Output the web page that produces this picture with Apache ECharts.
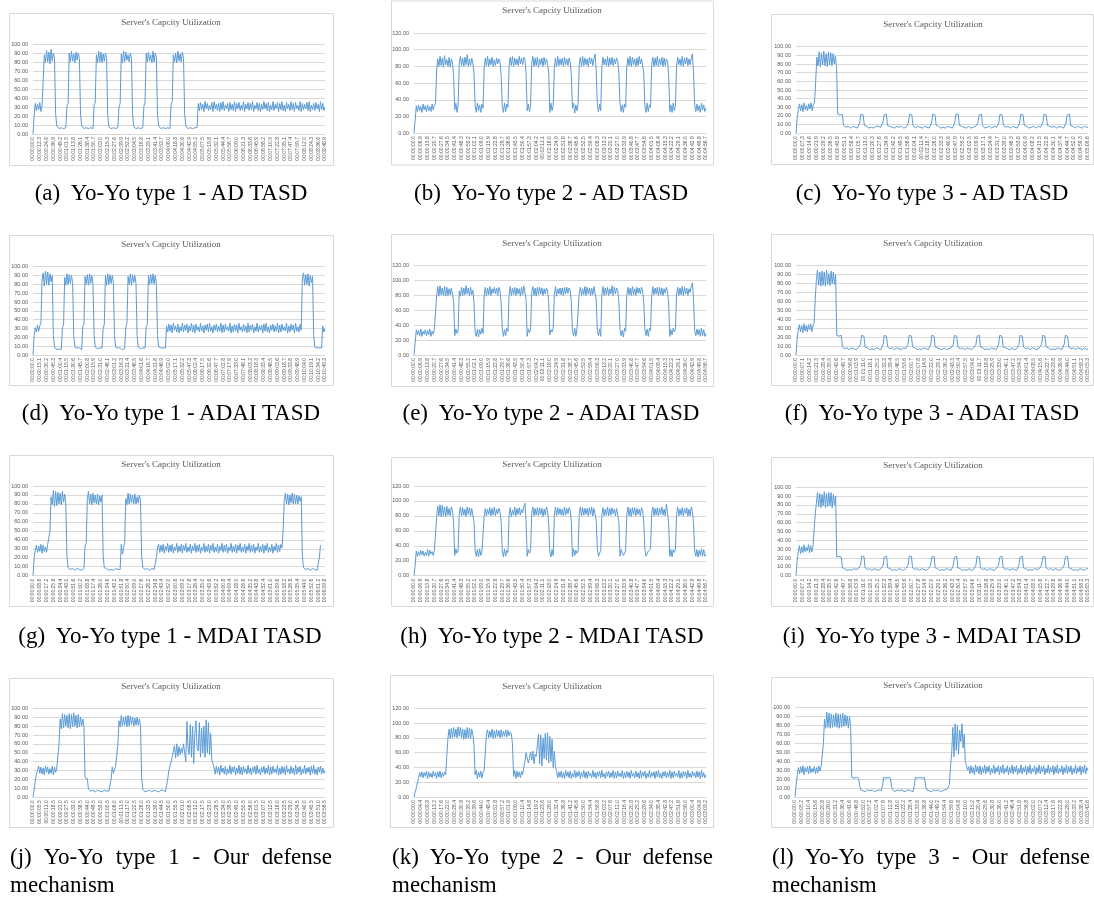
<!DOCTYPE html>
<html><head><meta charset="utf-8">
<script src="https://cdn.jsdelivr.net/npm/echarts@6/dist/echarts.min.js"></script>
<style>
html,body{margin:0;padding:0;background:#fff;width:1094px;height:900px;overflow:hidden;}
#chart{position:absolute;left:0;top:0;width:1094px;height:900px;}
.cap{position:absolute;font-family:"Liberation Serif","DejaVu Serif",serif;font-size:23px;line-height:28px;color:#000;}
.cap.c{white-space:nowrap;text-align:center;width:400px;}
.cap.j{white-space:normal;text-align:justify;}
</style></head><body>
<div id="chart"></div>
<div id="caps"></div>
<script>
// ---------------- DATA ----------------
const chartTitle = "Server's Capcity Utilization";
const captions = [
  "(a)\u00a0 Yo-Yo type 1 - AD TASD", "(b)\u00a0 Yo-Yo type 2 - AD TASD", "(c)\u00a0 Yo-Yo type 3 - AD TASD",
  "(d)\u00a0 Yo-Yo type 1 - ADAI TASD", "(e)\u00a0 Yo-Yo type 2 - ADAI TASD", "(f)\u00a0 Yo-Yo type 3 - ADAI TASD",
  "(g)\u00a0 Yo-Yo type 1 - MDAI TASD", "(h)\u00a0 Yo-Yo type 2 - MDAI TASD", "(i)\u00a0 Yo-Yo type 3 - MDAI TASD",
  "(j) Yo-Yo type 1 - Our defense mechanism", "(k) Yo-Yo type 2 - Our defense mechanism", "(l) Yo-Yo type 3 - Our defense mechanism"
];
// x tick labels: step between shown time labels (seconds) and number of labels
const tickStepSec = [12.3, 6.9, 7.3, 15.1, 6.9, 7.1, 8.6, 6.9, 7.1, 5.5, 4.4, 5.2];
const tickCount   = [44, 44, 43, 44, 44, 44, 44, 44, 44, 44, 44, 44];
const yMax  = [100, 120, 100, 100, 120, 100, 100, 120, 100, 100, 120, 100];
const yStep = [10, 20, 10, 10, 20, 10, 10, 20, 10, 10, 20, 10];
const samplesPerTick = 6;

const utilA = [0,20,
34,26,33,27,35,25,32,34,
88,79,93,80,91,78,94,81,90,84, 22,9, 8,6,8,7,8,6,8,7, 31,34,
90,80,92,81,89,79,91,82,90,84, 22,9, 8,6,8,7,8,6,8,7,8,6, 32,35,
88,79,92,80,91,79,89,81,90,85, 22,8, 8,6,8,7,8,6,8,7, 30,34,
89,79,92,80,91,82,88,80,90,84, 21,8, 8,6,8,7,8,6,8,7, 31,35,
90,80,91,81,88,79,92,80,90,85, 22,9, 8,6,8,7,8,6,8,7,8,6, 33,36,
88,80,90,79,92,81,89,80,91,84, 22,9, 8,6,8,7,8,6,8,7,8,7,
34,26,35,27,33,25,36,28,34,26,32,27,35,25,36,28,33,26,34,25,
35,27,36,26,32,28,34,25,35,27,33,26,36,25,34,28,35,26,32,27,
36,25,33,28,35,26,34,27,36,25,32,28,35,26,34,25,33,27,36,28,
34,26,35,25,32,27,36,26,33,28,35,25,34,27,36,26,32,25,35,28,
33,26,36,27,34,25,35,28,32,26,36,25,34,27,33,28,35,26,36,25,
32,27,34,26,35,28,33,25,36,27,34,26,30];
const utilB = [0,15,
33,26,34,27,32,25,35,28,33,26,34,27,32,26,35,28,33,36,
76,89,80,92,81,90,79,93,82,88,80,91,79,89,84,70, 28,36,25,34,
84,92,81,90,80,91,82,94,80,89,81,90,84,72, 33,25,36,27,34,25,35,30,
78,90,81,92,80,89,82,91,80,88,81,90,83,89,85,70, 32,25,36,26,35,31,
80,91,81,92,80,90,82,89,81,92,83,90,82,91,88,72, 27,35,26,33,
84,92,80,90,81,91,79,89,82,90,80,91,82,89,84,72, 25,36,27,33,
78,90,80,92,81,89,82,90,80,91,82,89,81,90,86,70, 30,36,24,34,27,35,
82,91,80,92,81,90,82,89,80,91,83,90,81,89,95,75, 34,26,35,27,
80,91,82,89,81,92,80,90,82,91,81,89,83,90,86,72, 36,26,34,25,35,31,
79,90,81,92,80,91,82,89,80,90,81,92,83,89,88,72, 33,25,36,26,34,31,
82,91,80,90,81,92,80,89,82,91,80,90,81,89,86,70, 26,34,25,36,27,33,
80,91,82,89,81,92,80,90,83,91,81,89,82,90,95,72,
34,26,35,27,33,25,36,28,34,26,30];
const utilC = [
0,18,27,34,26,33,25,35,27,32,26,34,28,35,26,33,36,60,88,78,
94,77,93,79,95,78,92,77,94,79,93,78,92,80,89,76,22,21,21,22,
22,9,8,7,6,8,8,6,7,8,6,7,8,6,7,12,22,22,21,9,
7,8,8,6,6,7,8,6,7,8,6,8,8,7,7,12,21,22,22,9,
7,8,6,7,8,6,7,8,8,7,6,8,7,6,8,7,6,12,22,21,
21,9,8,6,6,8,8,7,7,6,6,8,8,7,7,6,6,12,22,22,
21,9,7,8,8,6,6,7,8,6,7,8,6,7,8,6,7,12,22,21,
22,9,7,8,6,7,8,6,7,8,8,6,6,7,7,8,8,12,21,22,
22,9,7,6,8,7,6,8,8,6,7,8,6,7,8,12,22,21,21,9,
8,7,6,8,8,6,7,8,6,7,8,6,7,12,22,22,21,9,7,8,
8,6,6,7,8,8,7,6,6,8,8,7,7,12,22,21,21,9,7,8,
8,7,6,8,8,6,7,8,6,7,8,6,7,12,21,22,22,9,7,8,
8,6,6,8,7,7,8,6,6,8,8,7,7];
const utilD = [0,22,
31,26,34,27,33,36,
85,93,78,95,80,94,79,92,83,90, 22,9, 8,6,8,7,8,6, 31,34,
88,79,92,80,91,81,90,82, 22,9, 7,8,6,8,7,6, 32,35,
89,80,91,79,92,81,90,80, 22,9, 8,7,6,8,7,8, 30,35,
90,79,92,80,91,81,90,82, 22,9, 7,8,6,8,7,6,8,7, 31,36,
89,80,92,79,91,82,90,81, 22,9, 8,7,6,8,7,8, 32,35,
90,80,91,81,92,80,90,81, 22,9, 7,8,6,8,7,8,
33,26,35,27,34,25,36,28,33,26,35,25,32,27,36,26,34,28,35,25,
33,27,36,26,34,25,35,28,32,26,36,27,33,25,34,28,35,26,36,27,
32,25,34,28,35,26,33,27,36,25,34,26,35,28,32,27,36,25,33,26,
35,27,34,25,36,28,32,26,35,27,33,25,36,26,34,28,35,25,32,27,
36,26,33,28,34,25,35,27,36,26,32,25,34,28,35,26,33,27,36,25,
34,26,35,28,32,27,36,25,33,26,35,28,34,25,36,27,32,26,35,28,
86,93,79,91,80,92,78,90,82,89, 22,9, 7,8,6,8,7,8,
33,26,30];
const utilE = [0,16,
34,27,33,26,35,25,32,28,34,26,33,27,35,25,32,28,34,36,
80,92,79,93,81,90,80,92,79,91,80,89,81,90,88,72, 26,35,29,33,
86,79,91,80,90,81,93,82,90,80,91,81,87,70, 31,25,35,24,34,28,36,29,
80,91,79,90,81,92,80,89,83,91,82,90,80,91,86,71, 35,25,34,26,36,32,
81,92,80,90,81,91,80,90,82,89,79,91,81,93,92,75, 25,35,30,34,
85,92,80,90,79,91,81,91,82,90,80,89,82,90,86,72, 27,34,31,36,
80,92,79,89,82,90,81,90,80,91,82,91,83,90,87,71, 32,26,36,25,35,33,
84,91,80,89,81,92,80,91,82,90,80,90,81,92,94,74, 33,26,35,25,
81,92,80,90,81,91,80,89,82,93,80,91,82,90,87,72, 35,26,33,24,36,32,
80,91,81,90,80,92,81,89,80,91,83,90,82,91,86,71, 34,26,35,25,36,33,
80,92,81,90,82,91,80,91,81,90,80,89,83,91,85,70, 25,34,27,36,31,35,
82,91,80,90,81,92,80,91,82,90,80,89,84,92,97,74,
33,26,35,27,34,25,36,26,34,25,29];
const utilF = [
0,19,28,34,26,33,25,35,27,33,26,34,28,35,26,33,36,62,84,95,
78,93,77,94,78,93,77,95,79,91,78,94,80,93,79,90,22,21,21,22,
22,9,8,7,6,8,8,6,7,8,6,7,8,6,7,8,6,12,22,22,
21,9,7,8,8,6,6,7,8,6,7,8,6,7,8,6,7,12,22,21,
21,9,8,7,6,8,8,6,7,8,6,7,8,6,7,8,6,7,7,12,
22,22,21,9,7,8,8,6,6,7,8,6,7,8,6,7,8,6,7,12,
22,21,21,9,7,8,6,7,8,6,7,8,8,6,6,7,7,8,8,12,
22,22,21,9,8,7,6,8,8,6,7,8,6,7,8,6,7,8,6,12,
21,22,22,9,7,8,8,6,6,7,8,6,7,8,6,7,8,6,7,12,
22,21,21,9,7,8,6,7,8,6,7,8,8,6,6,7,7,12,22,22,
21,9,8,7,6,8,8,6,7,8,6,7,8,6,7,8,6,12,22,21,
21,9,7,8,8,6,6,7,8,6,7,8,6,7,8,6,7,12,22,22,
21,9,8,7,6,8,8,6,7,8,6,7,8,6,7,8,8,6,7];
const utilG = [0,20,
28,34,26,33,27,35,25,34,27,32,26,35,34,50,
88,79,95,77,94,78,93,80,92,79,94,82,91,80, 22,9, 8,7,6,8,8,6,7,8,6,7,8,6,7,8, 33,36,
85,94,80,91,79,92,81,90,80,91,79,89,82,90, 22,9, 7,8,8,6,6,7,8,6,7,8,6,7,8,7, 35,24,26,37,
86,79,92,80,91,81,90,80,91,80,88,81,90,83, 22,9, 8,7,6,8,8,6,7,8,6,7,8,20,
31,35,26,34,27,35,25,33,28,36,26,34,27,35,25,32,28,36,26,33,
27,35,25,34,28,36,26,32,27,35,25,33,28,36,26,34,27,35,25,32,
28,36,26,33,27,35,25,34,28,36,26,32,27,35,25,33,28,36,26,34,
27,35,25,32,28,36,26,33,27,35,25,34,28,36,26,32,27,35,25,33,
28,36,26,34,27,35,25,32,28,36,26,33,27,35,25,34,28,36,26,32,
27,35,25,33,28,36,26,34,27,35,31,50,
84,92,80,91,79,90,81,92,80,91,80,90,80,89,83,88, 22,9, 8,7,6,8,8,6,7,8,6,7,8,6,7,20,
34];
const utilH = [0,14,
33,26,32,27,34,28,33,26,31,27,35,26,34,29,32,27,34,36,
78,93,80,95,79,94,80,92,79,93,81,90,80,92,87,70, 27,36,30,34,
83,92,80,91,81,89,79,92,82,91,80,90,81,72, 34,26,35,25,36,27,33,31,
79,90,80,89,82,91,80,90,81,92,80,89,83,90,86,72, 33,25,36,26,34,31,
80,91,79,88,81,92,80,90,82,91,81,89,84,92,97,74, 26,35,30,34,
83,92,80,90,81,91,80,91,82,90,79,89,81,92,87,70, 32,25,35,27,
80,92,80,91,82,90,81,89,80,92,81,90,83,91,88,72, 25,36,27,34,30,33,
83,92,80,91,81,90,82,90,80,91,82,92,80,90,89,74, 35,26,25,34,
82,91,80,89,81,92,80,90,81,91,83,89,80,90,88,72, 26,35,34,27,30,34,
81,92,80,90,79,91,82,91,80,90,82,89,80,91,87,72, 35,26,24,33,32,36,
83,92,80,90,81,91,80,90,82,92,81,89,80,96,84,70, 26,35,25,35,31,35,
82,92,80,89,81,91,80,90,83,91,80,89,80,92,86,70,
33,26,35,25,34,27,36,26,35,26,28];
const utilI = [
0,17,27,34,25,33,26,35,27,32,28,35,26,34,27,33,35,70,82,94,
78,93,77,92,79,95,77,93,78,94,79,94,77,92,80,90,21,22,22,21,
21,9,7,8,8,6,6,7,8,6,7,8,8,7,6,8,7,12,22,22,
22,9,8,7,6,8,8,6,7,8,6,7,8,6,7,8,8,12,21,22,
22,9,7,8,8,6,6,7,8,6,7,8,6,7,8,6,7,8,6,12,
22,21,22,9,8,7,6,8,8,6,7,8,6,7,8,6,7,8,8,12,
21,22,22,9,7,8,8,6,6,7,8,6,7,8,6,7,8,6,7,12,
21,22,22,9,7,8,8,6,6,7,8,6,7,8,8,6,6,7,7,12,
22,21,21,9,8,7,6,8,8,6,7,8,6,7,8,6,7,8,8,12,
21,22,22,9,8,7,6,8,8,6,7,8,6,7,8,6,7,12,21,22,
22,9,7,8,8,6,6,7,8,6,7,8,8,7,6,8,7,12,21,22,
22,9,8,7,6,8,8,6,7,8,6,7,8,6,7,8,8,12,21,22,
22,9,7,8,8,6,6,7,8,6,7,8,6,7,8,6,7,8,8];
const utilJ = [0,8,18,26,
30,35,27,34,26,33,25,35,28,34,26,32,27,35,25,34,28,33, 34,60,
88,77,94,78,93,80,92,78,94,77,93,79,95,80,92,78,93,79,90,80,88,80, 22,23,21,9,
8,7,6,8,8,6,7,8,6,7,8,6,7,8,6,7,8,7,8,20, 34,27,26,35,36,60,
86,79,92,80,90,81,91,79,92,80,91,82,90,80,89,81,90,81,88,80, 22,9,
8,6,8,7,6,8,8,6,7,8,6,7,8,6,7,8,6,8,7,6,8,20, 30,35,36,45,
52,58,44,60,46,57,48,55,50,60,
62,40,85,55,48,82,45,80,38,72,86,55,52,84,45,78,50,80,45,87,50,84,48,72, 42,38,
33,26,35,27,34,25,36,28,33,26,35,25,32,27,36,26,34,28,35,25,
33,27,36,26,34,25,35,28,32,26,36,27,33,25,34,28,35,26,36,27,
32,25,34,28,35,26,33,27,36,25,34,26,35,28,32,27,36,25,33,26,
35,27,34,25,36,28,32,26,35,27,33,25,36,26,34,28,35,25,32,27,
36,26,33,28,34,25,35,27,36,26,32,25,34,28,35,26,33,27,30];
const utilK = [0,6,12,19,26,33,
27,34,26,33,28,35,25,34,27,32,26,35,28,33,25,34,27,35,26,33,28,34,30,55,
80,92,79,93,80,94,81,92,80,95,82,94,80,92,78,91,79,94,80,93,79,92,85,70,
30,36,25,34,27,35,26,33,36,60,
85,91,80,89,81,92,79,90,80,91,82,90,80,91,81,89,82,91,81,90,83,88,85,72,
28,36,25,35,27,34,26,35,30,40,
48,60,58,46,52,61,50,62,45,58,
55,70,85,45,84,42,80,52,86,50,87,46,82,48,78,40,62,40, 35,26,
34,27,35,26,33,25,36,28,34,26,35,25,32,27,36,26,34,28,35,25,
33,27,36,26,34,25,35,28,32,26,36,27,33,25,34,28,35,26,36,27,
32,25,34,28,35,26,33,27,36,25,34,26,35,28,32,27,36,25,33,26,
35,27,34,25,36,28,32,26,35,27,33,25,36,26,34,28,35,25,32,27,
36,26,33,28,34,25,35,27,36,26,32,25,34,28,35,26,33,27,36,25,
34,26,35,28,32,27,36,25,33,26,35,28,34,25,36,27,32,26,35,28,
33,26,35,27,34,25,36,27,33,26,30];
const utilL = [
0,14,25,33,26,34,27,35,25,33,28,34,26,35,27,32,28,34,26,33,
27,35,29,34,36,60,87,77,95,78,94,77,93,78,92,79,94,78,93,77,
93,78,94,79,92,80,91,77,90,79,22,23,21,22,22,21,21,12,8,7,
7,8,6,7,8,6,7,8,8,7,6,8,7,6,8,7,7,12,22,23,
21,22,22,21,21,12,8,7,6,8,8,6,7,8,8,7,6,8,7,6,
8,7,7,8,6,12,22,23,21,22,22,21,21,22,22,12,8,7,7,8,
6,7,8,6,7,8,8,7,6,8,7,6,8,7,9,10,14,35,50,78,
45,82,52,80,48,75,62,82,55,70,40,35,30,34,26,35,27,33,25,36,
28,34,26,35,25,33,27,36,26,34,28,35,25,32,27,36,26,33,28,35,
25,34,27,36,26,32,28,35,25,33,27,36,26,34,28,35,25,32,27,36,
26,33,28,35,25,34,27,36,26,32,28,35,25,33,27,36,26,34,28,35,
25,32,27,36,26,33,28,35,25,34,27,36,26,32,28,35,25,33,27,36,
26,34,28,35,25,32,27,36,26,33,28,35,25,34,27,36,26,33,30];
const utilSeries = [utilA, utilB, utilC, utilD, utilE, utilF, utilG, utilH, utilI, utilJ, utilK, utilL];

// ---------------- LAYOUT ----------------
const frames = [ // x, y, w, h
  [9,13,324,152],[391,0.5,322,164],[771,14,322,150],
  [9,235,324,150],[391,234,322,152],[771,234,322,151],
  [9,455,324,151],[391,457,322,149],[771,457,322,149],
  [9,678,324,149],[390,675,323,152],[771,677,322,150]];
const titlePos = [[171,23],[552,11],[933,25],[171,245],[552,244],[933,244],
  [171,465],[552,465],[933,466],[171,687],[552,687],[933,686]];
const gridBox = [ // left, top, width, height
  [33,44,292,90],[414,33,292,100.3],[796,46.7,292,86.6],
  [33,266.7,292,88.3],[414,265.7,292,89.3],[796,265.7,292,89.3],
  [33,486,292,89.7],[414,486,292,89.7],[796,487.3,292,88.4],
  [33,708.3,292,89],[414,708.3,292,88.7],[795,707.7,293,89.3]];
const capBox = [ // center x (or left + width for justified), top
  [171,178.5],[551,178.5],[932,178.5],
  [171,398.5],[551,398.5],[932,398.5],
  [170,621.5],[552,621.5],[932,621.5],
  [10,842.5,322],[392,842.5,321],[772,842.5,318]];

function fmtTime(tenths){
  const m = Math.floor(tenths/600);
  const s = (tenths % 600)/10;
  return '00:' + String(m).padStart(2,'0') + ':' + s.toFixed(1).padStart(4,'0');
}

const chart = echarts.init(document.getElementById('chart'), null, {renderer:'canvas'});
const grids=[], xAxes=[], yAxes=[], series=[], graphics=[];
const gray = '#D9D9D9', txt = '#595959';
for (let i=0;i<12;i++){
  const n = (tickCount[i]-1)*samplesPerTick + 1;
  if (utilSeries[i].length !== n) console.error('panel ' + i + ' length ' + utilSeries[i].length + ' expected ' + n);
  const stepT = Math.round(tickStepSec[i]*10);
  const cats = [];
  for (let k=0;k<n;k++) cats.push(fmtTime(Math.round(k*stepT/samplesPerTick)));
  const g = gridBox[i];
  grids.push({left:g[0], top:g[1], width:g[2], height:g[3], containLabel:false, outerBoundsMode:'none'});
  xAxes.push({gridIndex:i, type:'category', boundaryGap:false, data:cats,
    axisLine:{show:true, lineStyle:{color:gray, width:1}}, axisTick:{show:false},
    axisLabel:{interval:samplesPerTick-1, rotate:90, fontSize:5, color:txt, margin:3, fontFamily:'Liberation Sans'},
    splitLine:{show:false}});
  yAxes.push({gridIndex:i, type:'value', min:0, max:yMax[i], interval:yStep[i],
    axisLine:{show:false}, axisTick:{show:false},
    axisLabel:{fontSize:5.5, color:txt, margin:5, fontFamily:'Liberation Sans', formatter:v=>v.toFixed(2)},
    splitLine:{show:true, lineStyle:{color:gray, width:1}}});
  series.push({type:'line', xAxisIndex:i, yAxisIndex:i, data:utilSeries[i].slice(0,n),
    symbol:'none', showSymbol:false, silent:true, animation:false,
    lineStyle:{color:'#5B9BD5', width:1}});
  const f = frames[i];
  graphics.push({type:'rect', silent:true, shape:{x:f[0]+0.5, y:f[1]+0.5, width:f[2], height:f[3]},
    style:{fill:'none', stroke:gray, lineWidth:1}});
  graphics.push({type:'text', silent:true, x:titlePos[i][0], y:titlePos[i][1],
    style:{text:chartTitle, fill:txt, font:'9px "Liberation Serif"', textAlign:'center', textVerticalAlign:'middle', align:'center', verticalAlign:'middle'}});
}
chart.setOption({animation:false, grid:grids, xAxis:xAxes, yAxis:yAxes, series:series, graphic:graphics});

// captions
const capsDiv = document.getElementById('caps');
captions.forEach((c,i)=>{
  const d = document.createElement('div');
  const b = capBox[i];
  if (b.length === 3){ d.className='cap j'; d.style.left=b[0]+'px'; d.style.width=b[2]+'px'; }
  else { d.className='cap c'; d.style.left=(b[0]-200)+'px'; }
  d.style.top=b[1]+'px';
  d.textContent=c;
  capsDiv.appendChild(d);
});
</script>
</body></html>
